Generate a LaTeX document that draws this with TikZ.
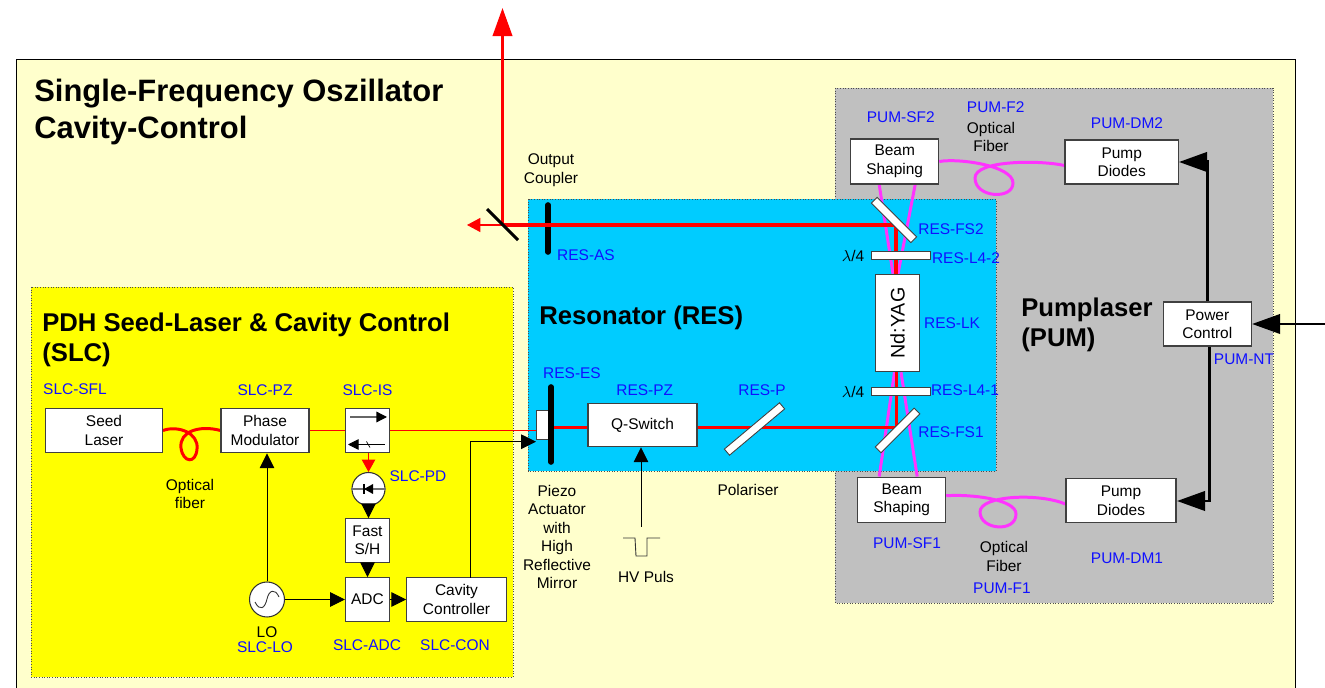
\documentclass[tikz,border=0pt]{standalone}
\usepackage{fontspec}
\setmainfont{Liberation Sans}
\usetikzlibrary{arrows.meta, positioning, calc}
\definecolor{palebg}{HTML}{FFFFCC}
\definecolor{resblue}{HTML}{00CCFF}
\definecolor{pumgray}{HTML}{C0C0C0}
\definecolor{slcyellow}{RGB}{255,255,0}
\definecolor{pumpviolet}{HTML}{FF33FF}
\definecolor{lblblue}{HTML}{1010FF}
\pgfdeclarelayer{arealayer}
\pgfdeclarelayer{beamlayer}
\pgfsetlayers{arealayer,beamlayer,main}
\tikzset{
  optbox/.style={draw=black!75, fill=white, line width=0.6pt, inner sep=0pt, align=center,
    font=\fontsize{8.8}{10.5}\selectfont},
  plate/.style={draw=black!75, fill=white, line width=0.5pt, inner sep=0pt},
  roundel/.style={circle, draw=black!80, fill=white, line width=0.6pt, inner sep=0pt},
  lbl/.style={text=lblblue, inner sep=0pt, font=\fontsize{8.8}{10.5}\selectfont},
  txt/.style={inner sep=0pt, align=center, font=\fontsize{8.8}{10.5}\selectfont},
  head/.style={inner sep=0pt, align=left, anchor=west, font=\bfseries\fontsize{14.6}{17.3}\selectfont},
  area/.style={densely dotted, draw=black!70, line width=0.5pt},
  sig/.style={line width=0.5pt, -{Triangle[length=8.4pt,width=8.2pt]}},
  power/.style={line width=1.7pt, -{Triangle[length=16pt,width=11pt]}},
  thinbeam/.style={red, line width=0.6pt},
  fatbeam/.style={red, line width=2pt},
  fiber/.style={line width=1.7pt},
  mirror/.style={line width=3.2pt, line cap=round}
}
\begin{document}
\begin{tikzpicture}[x=0.02cm,y=-0.02cm]
\useasboundingbox (0,0) rectangle (1325,688);
% areas
\begin{pgfonlayer}{arealayer}
\fill[palebg] (16,59) rectangle (1295,688);
\draw[line width=0.5pt] (16,688) -- (16,59) -- (1295,59) -- (1295,688);
\filldraw[area, fill=pumgray] (835,88) rectangle (1273,603);
\filldraw[area, fill=resblue] (528,199) rectangle (996,471);
\filldraw[area, fill=slcyellow] (31,287) rectangle (513,677);
\end{pgfonlayer}
% headings
\node[head, font=\bfseries\fontsize{17.6}{21}\selectfont] (mainhead) at (34,112) {Single-Frequency Oszillator\\Cavity-Control};
\node[head] (slchead) at (42,340) {PDH Seed-Laser \& Cavity Control\\(SLC)};
\node[head] (reshead) at (539,318) {Resonator (RES)};
\node[head] (pumhead) at (1021,325) {Pumplaser\\(PUM)};
% boxes of the seed part
\node[optbox, minimum width=2.34cm, minimum height=0.89cm] (seed) at (104,430.5) {Seed\\Laser};
\node[optbox, minimum width=1.76cm, minimum height=0.89cm] (phase) at (265,430.5) {Phase\\Modulator};
\node[optbox, minimum width=0.88cm, minimum height=0.89cm] (iso) at (367.5,430.5) {};
\node[roundel, minimum size=0.66cm] (pd) at (368.5,489) {};
\node[optbox, minimum width=0.88cm, minimum height=0.87cm] (sh) at (367.5,540.5) {Fast\\S/H};
\node[optbox, minimum width=0.88cm, minimum height=0.87cm] (adc) at (367.5,599.5) {ADC};
\node[optbox, minimum width=1.99cm, minimum height=0.87cm] (con) at (456.5,599.5) {Cavity\\Controller};
\node[roundel, minimum size=0.7cm] (lo) at (267,599.5) {};
% resonator parts
\node[optbox, minimum width=2.18cm, minimum height=0.87cm] (qsw) at (642.5,425) {Q-Switch};
\node[plate, minimum width=0.26cm, minimum height=0.58cm] (piezo) at (542.5,424.5) {};
\node[optbox, rotate=90, minimum width=1.95cm, minimum height=0.88cm, font=\fontsize{11.2}{13}\selectfont] (yag) at (897.5,323) {Nd:YAG};
\coordinate (fold) at (502.5,225);
\coordinate (upend) at (502.5,8);
\coordinate (leftend) at (467,225);
\coordinate (fsa) at (896,225);
\coordinate (fsb) at (896.5,427.5);
% pump parts
\node[optbox, minimum width=1.76cm, minimum height=0.9cm] (bsb) at (894.7,161.5) {Beam\\Shaping};
\node[optbox, minimum width=1.76cm, minimum height=0.91cm] (bsa) at (901.7,499.8) {Beam\\Shaping};
\node[optbox, minimum width=2.27cm, minimum height=0.88cm] (pdb) at (1121.7,162) {Pump\\Diodes};
\node[optbox, minimum width=2.2cm, minimum height=0.88cm] (pda) at (1121,500.6) {Pump\\Diodes};
\node[optbox, minimum width=1.77cm, minimum height=0.88cm] (pwr) at (1207.3,324) {Power\\Control};
\coordinate (pwrin) at (1325,324);
% pump light and laser light lie under the parts
\begin{pgfonlayer}{beamlayer}
\draw[mirror] (548,205) -- (548,252);
\draw[pumpviolet, fiber] ($(bsb.south)+(-15.5,0)$) -- ($(yag.east)+(-4.5,0)$);
\draw[pumpviolet, fiber] ($(bsb.south)+(20.5,0)$) -- ($(yag.east)+(0.5,0)$);
\draw[pumpviolet, fiber] ($(bsa.north)+(-22.5,0)$) -- ($(yag.west)+(-3,0)$);
\draw[pumpviolet, fiber] ($(bsa.north)+(15.5,0)$) -- ($(yag.west)+(3.5,0)$);
\draw[pumpviolet, fiber] (bsb.east) .. controls (960,158) and (1013,166) .. (1013,183) .. controls (1013,200) and (975,198) .. (975,178) .. controls (975,160) and (1040,160) .. ([yshift=-2pt]pdb.west);
\draw[pumpviolet, fiber] ([yshift=2.3pt]bsa.east) .. controls (970,494) and (1016,499) .. (1016,514) .. controls (1016,533) and (980,530) .. (980,512) .. controls (980,495) and (1040,493) .. ([yshift=-2pt]pda.west);
\draw[thinbeam] (phase.east) -- (iso.west);
\draw[thinbeam] (iso.east) -- (iso.east -| piezo.west);
\draw[fatbeam] (piezo.center |- fsb) -- (fsb) -- (fsb |- yag.west);
\draw[fatbeam] (fold) -- (fsa) -- (fsa |- yag.east);
\draw[red, line width=1.7pt, -{Triangle[length=16pt,width=11pt]}] (fold) -- (upend);
\draw[thinbeam, -{Triangle[length=7.6pt,width=8pt]}] (fold) -- (leftend);
\draw[red, fiber] (seed.east) .. controls (178,425) and (199,433) .. (197,449) .. controls (196,464) and (183,463) .. (181,448) .. controls (179,431) and (200,425) .. (phase.west);
\draw[thinbeam, -{Triangle[length=7pt,width=7.6pt]}] (iso.south -| pd.north) -- (pd.north);
\end{pgfonlayer}
% optics in the beam
\draw[mirror, line width=1.7pt, line cap=butt] (487,209) -- (518,240);
\draw[mirror] (551,387) -- (551,462);
\node[plate, rotate=40, minimum width=1.44cm, minimum height=0.16cm] (pol) at (754.5,429) {};
\node[plate, rotate=-45, minimum width=1.12cm, minimum height=0.16cm] (fsplateb) at (894,220) {};
\node[plate, rotate=45, minimum width=1.1cm, minimum height=0.16cm] (fsplatea) at (897.5,430.5) {};
\node[plate, minimum width=1.17cm, minimum height=0.15cm] (wpb) at (900.7,255.5) {};
\node[plate, minimum width=1.17cm, minimum height=0.15cm] (wpa) at (900.7,391.5) {};
% glyphs in the isolator, the diode and the oscillator
\draw[line width=0.7pt, black!60, -{Triangle[length=6pt,width=6pt,black]}] (350,417) -- (387,417);
\draw[line width=0.5pt, {Triangle[length=6pt,width=6pt]}-] (348,444.5) -- (385,444.5);
\draw[line width=0.4pt] (366.5,441.5) -- (370,447.5);
\draw[line width=0.7pt, black!55] (pd.west) -- (pd.east);
\fill (364,489) -- (373,484) -- (373,494) -- cycle;
\draw[line width=0.6pt] (364,484) -- (364,494);
\draw[line width=0.5pt, black!80] (255,602) .. controls (260,612) and (265,608) .. (267,599) .. controls (269,590) and (275,588) .. (279,597);
% signal lines
\coordinate (conup) at (470,578);
\draw[sig] (lo.north) -- (lo.north |- phase.south);
\draw[sig] (lo.east) -- (adc.west);
\draw[sig] (adc.east) -- (con.west);
\draw[sig] (pd.south) -- (pd.south |- sh.north);
\draw[sig] (sh.south) -- (adc.north);
\draw[sig] (conup) -- (470,441.7) -- (536,441.7);
\coordinate (hvtop) at (641,527);
\draw[sig] (hvtop) -- (hvtop |- qsw.south);
\draw[line width=0.5pt, black!80] (623,538) -- (635,538) -- (636,556) -- (647,556) -- (647,538) -- (660,538);
\draw[power] (pwr.north) |- (pdb.east);
\draw[power] ([xshift=1.5]pwr.south) |- (1177,501);
\draw[power] (pwrin) -- (pwr.east);
% blue part labels
\foreach \lab / \x / \y in {SLC-SFL/75/389, SLC-PZ/265/390, SLC-IS/367.5/390, SLC-PD/418/476,
  SLC-LO/265/647, SLC-ADC/367/645, SLC-CON/455/645, RES-AS/586/255, RES-ES/572/373,
  RES-PZ/644.7/390, RES-P/762/390, RES-FS2/951/229, RES-L4-2/966/258, RES-LK/952/323,
  RES-L4-1/965/390, RES-FS1/951/432, PUM-SF2/900.7/117, PUM-F2/995.7/107, PUM-DM2/1127/123,
  PUM-SF1/907/543, PUM-F1/1002/588, PUM-DM1/1127/558, PUM-NT/1244/359} {
\node[lbl] (\lab) at (\x,\y) {\lab};
}
% black text
\node[txt] (fiberseed) at (190,494) {Optical\\fiber};
\node[txt] (lotxt) at (267,632) {LO};
\node[txt] (octxt) at (551,170) {Output\\Coupler};
\node[txt] (piezotxt) at (557,537) {Piezo\\Actuator\\with\\High\\Reflective\\Mirror};
\node[txt] (poltxt) at (748,490) {Polariser};
\node[txt] (hvtxt) at (646,577) {HV Puls};
\node[txt] (fibertop) at (991,137) {Optical\\Fiber};
\node[txt] (fiberlow) at (1004,556.5) {Optical\\Fiber};
\node[txt] (wptxtb) at (853,256) {$\lambda$/4};
\node[txt] (wptxta) at (853,392) {$\lambda$/4};
\end{tikzpicture}
\end{document}
